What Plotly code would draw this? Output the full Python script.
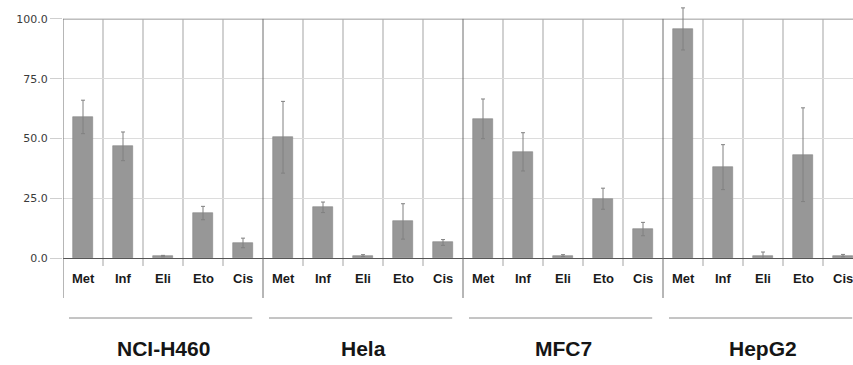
import plotly.graph_objects as go

groups = ["NCI-H460", "Hela", "MFC7", "HepG2"]
drugs = ["Met", "Inf", "Eli", "Eto", "Cis"]

nci_vals = [59.0, 46.7, 0.8, 18.8, 6.3]
nci_errs = [7.0, 6.0, 0.3, 2.8, 2.0]
hela_vals = [50.5, 21.2, 1.0, 15.3, 6.5]
hela_errs = [15.0, 2.2, 0.4, 7.4, 1.2]
mfc7_vals = [58.2, 44.4, 1.0, 24.8, 12.1]
mfc7_errs = [8.3, 8.0, 0.4, 4.4, 2.8]
hepg2_vals = [95.8, 38.0, 1.0, 43.2, 1.0]
hepg2_errs = [8.8, 9.4, 1.5, 19.6, 0.5]

all_vals = [nci_vals, hela_vals, mfc7_vals, hepg2_vals]
all_errs = [nci_errs, hela_errs, mfc7_errs, hepg2_errs]

y_ticks = [0, 25, 50, 75, 100]
Y_TOP = 100
Y_MAX = 107.9  # headroom so error bars above 100 are visible

n = len(drugs)
xs, ys, es, labels = [], [], [], []
for gi, g in enumerate(groups):
    for di, d in enumerate(drugs):
        xs.append(gi * n + di)
        ys.append(all_vals[gi][di])
        es.append(all_errs[gi][di])
        labels.append(d)

fig = go.Figure()
fig.add_trace(go.Bar(
    x=xs, y=ys, width=0.5,
    marker=dict(color="#979797", line=dict(color="#858585", width=0.6)),
    error_y=dict(type="data", array=es, visible=True, color="#808080",
                 thickness=1, width=2),
    showlegend=False,
))

total = len(xs)
top_dom = Y_TOP / Y_MAX
shapes = []
# category gridlines (0 to 100) with short ticks below zero
for i in range(total - 1):
    xb = i + 0.5
    if (i + 1) % n == 0:
        continue
    shapes.append(dict(type="line", xref="x", yref="y domain",
                       x0=xb, x1=xb, y0=-0.031, y1=top_dom, layer="below",
                       line=dict(color="#a3a3a3", width=1)))
# group separators and left axis line extending below zero
for gi in range(len(groups)):
    xb = gi * n - 0.5
    shapes.append(dict(type="line", xref="x", yref="y domain",
                       x0=xb, x1=xb, y0=-0.155, y1=top_dom,
                       line=dict(color="#6e6e6e", width=1)))
# top line
shapes.append(dict(type="line", xref="paper", yref="y", x0=0, x1=1,
                   y0=Y_TOP, y1=Y_TOP, layer="below",
                   line=dict(color="#a8a8a8", width=1.6)))
# group underlines
for gi in range(len(groups)):
    shapes.append(dict(type="line", xref="x", yref="y domain",
                       x0=gi * n - 0.35, x1=gi * n + n - 0.77,
                       y0=-0.2326, y1=-0.2326,
                       line=dict(color="#8a8a8a", width=1)))

annotations = []
for x, lab in zip(xs, labels):
    annotations.append(dict(x=x, y=-0.078, xref="x", yref="y domain",
                            text="<b>%s</b>" % lab, showarrow=False,
                            font=dict(family="Liberation Sans", size=13,
                                      color="#1a1a1a"),
                            xanchor="center", yanchor="middle"))
for gi, g in enumerate(groups):
    annotations.append(dict(x=gi * n + (n - 1) / 2, y=-0.349, xref="x",
                            yref="y domain", text="<b>%s</b>" % g,
                            showarrow=False,
                            font=dict(family="Liberation Sans", size=21,
                                      color="#151515"),
                            xanchor="center", yanchor="middle"))

fig.update_layout(
    width=853, height=365, autosize=False,
    margin=dict(l=63, r=0, t=0, b=107),
    plot_bgcolor="white", paper_bgcolor="white",
    shapes=shapes, annotations=annotations,
    bargap=0,
    xaxis=dict(
        range=[-0.5, total - 0.75],
        showticklabels=False, ticks="",
        showgrid=False, zeroline=False, showline=False,
        fixedrange=True,
    ),
    yaxis=dict(
        range=[0, Y_MAX],
        tickmode="array", tickvals=y_ticks, tickformat=".1f",
        tickfont=dict(family="DejaVu Sans", size=11, color="#3a3a3a"),
        showgrid=True, gridcolor="#dcdcdc", gridwidth=1,
        ticks="outside", ticklen=12, tickcolor="#cfcfcf",
        zeroline=True, zerolinecolor="#555555", zerolinewidth=1,
        showline=False,
        fixedrange=True,
    ),
)

fig.write_html("out.html")
